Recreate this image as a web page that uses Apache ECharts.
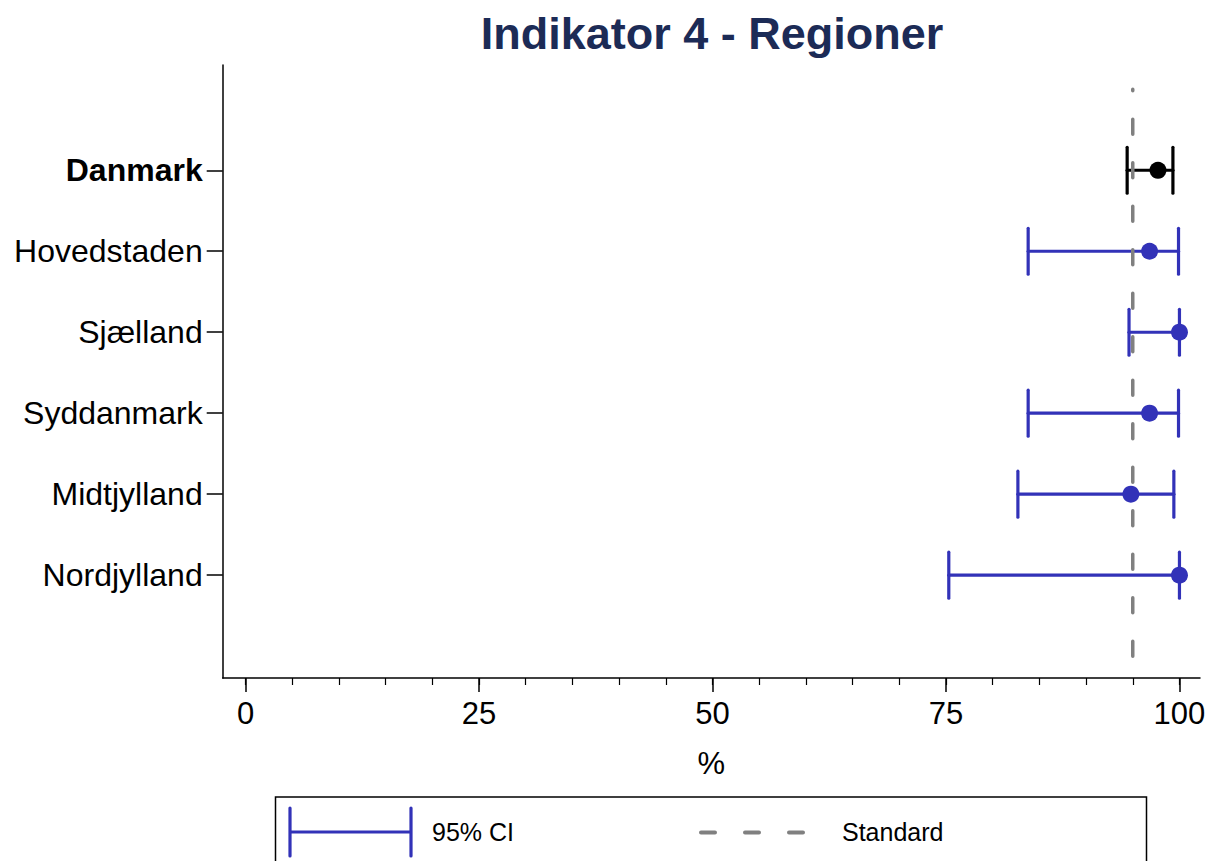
<!DOCTYPE html>
<html>
<head>
<meta charset="utf-8">
<title>Indikator 4 - Regioner</title>
<script src="https://cdn.jsdelivr.net/npm/echarts@6.0.0/dist/echarts.min.js"></script>
<style>
  html, body { margin: 0; padding: 0; background: #fff; }
  #main { width: 1210px; height: 861px; }
</style>
</head>
<body>
<div id="main"></div>
<script>
// data
const regions = ["Danmark", "Hovedstaden", "Sjælland", "Syddanmark", "Midtjylland", "Nordjylland"];
const means = [97.7, 96.8, 100, 96.8, 94.8, 100];
const ciLow = [94.4, 83.8, 94.6, 83.8, 82.7, 75.3];
const ciHigh = [99.3, 99.9, 100, 99.9, 99.4, 100];
const standard = 95;
const xLabels = [0, 25, 50, 75, 100];
const xMinor = [0, 5, 10, 15, 20, 25, 30, 35, 40, 45, 50, 55, 60, 65, 70, 75, 80, 85, 90, 95, 100];
const rowPos = [1, 2, 3, 4, 5, 6];

const BLUE = "#3232b8";
const GREY = "#808080";
const FONT = "'Liberation Sans', Arial, Helvetica, sans-serif";

const myChart = echarts.init(document.getElementById("main"), null, { renderer: "svg" });

const ciData = regions.map((r, i) => [rowPos[i], ciLow[i], ciHigh[i]]);
const pointData = regions.map((r, i) => ({
  value: [means[i], rowPos[i]],
  itemStyle: { color: i === 0 ? "#000" : BLUE, opacity: 1 },
}));

myChart.setOption({
  animation: false,
  backgroundColor: "#fff",
  title: {
    text: "Indikator 4 - Regioner",
    left: 707,
    top: 6,
    textAlign: "center",
    textStyle: { fontFamily: FONT, fontSize: 45, fontWeight: "bold", color: "#1c2b56" },
  },
  grid: { left: 222.7, right: 10, top: 65, bottom: 183 },
  xAxis: [
    {
      type: "value",
      min: -2.45,
      max: 102.2,
      name: "%",
      nameLocation: "middle",
      nameGap: 70,
      nameTextStyle: { fontFamily: FONT, fontSize: 31, color: "#000" },
      axisLine: { show: true, onZero: false, lineStyle: { color: "#000", width: 1.5 } },
      axisTick: { show: true, customValues: xLabels, length: 14, lineStyle: { color: "#000", width: 1.5 } },
      axisLabel: { customValues: xLabels, margin: 20, fontFamily: FONT, fontSize: 31, color: "#000" },
      splitLine: { show: false },
    },
    {
      type: "value",
      min: -2.45,
      max: 102.2,
      position: "bottom",
      axisLine: { show: false, onZero: false },
      axisTick: { show: true, customValues: xMinor, length: 7, lineStyle: { color: "#000", width: 1.2 } },
      axisLabel: { show: false },
      splitLine: { show: false },
    },
  ],
  yAxis: {
    type: "value",
    inverse: true,
    min: -0.3,
    max: 7.27,
    axisLine: { show: true, onZero: false, lineStyle: { color: "#000", width: 1.5 } },
    axisTick: { show: true, customValues: rowPos, length: 16, lineStyle: { color: "#000", width: 1.5 } },
    axisLabel: {
      customValues: rowPos,
      margin: 20,
      fontFamily: FONT,
      fontSize: 32,
      color: "#000",
      formatter: function (v) {
        const name = regions[Math.round(v) - 1];
        return Math.round(v) === 1 ? "{b|" + name + "}" : name;
      },
      rich: {
        b: { fontFamily: FONT, fontSize: 32, fontWeight: "bold", color: "#000" },
      },
    },
    splitLine: { show: false },
  },
  series: [
    {
      name: "95% CI",
      type: "custom",
      z: 2,
      encode: { x: [1, 2], y: 0 },
      data: ciData,
      renderItem: function (params, api) {
        const y = api.value(0);
        const p1 = api.coord([api.value(1), y]);
        const p2 = api.coord([api.value(2), y]);
        const h = 23;
        const col = params.dataIndex === 0 ? "#000" : BLUE;
        const st = { stroke: col, lineWidth: 3.2, lineCap: "round" };
        return {
          type: "group",
          children: [
            { type: "line", shape: { x1: p1[0], y1: p1[1], x2: p2[0], y2: p2[1] }, style: st },
            { type: "line", shape: { x1: p1[0], y1: p1[1] - h, x2: p1[0], y2: p1[1] + h }, style: st },
            { type: "line", shape: { x1: p2[0], y1: p2[1] - h, x2: p2[0], y2: p2[1] + h }, style: st },
          ],
        };
      },
    },
    {
      name: "Standard",
      type: "line",
      z: 3,
      symbol: "none",
      data: [[standard, 7], [standard, 0]],
      lineStyle: { color: GREY, width: 3.5, type: [15, 28.5], cap: "round" },
    },
    {
      name: "Andel",
      type: "scatter",
      z: 4,
      symbolSize: 17,
      data: pointData,
    },
  ],
  graphic: [
    {
      type: "rect",
      shape: { x: 275.5, y: 797, width: 871, height: 100 },
      style: { fill: "none", stroke: "#000", lineWidth: 1.5 },
    },
    { type: "line", shape: { x1: 290, y1: 832, x2: 411, y2: 832 }, style: { stroke: BLUE, lineWidth: 3.2 } },
    { type: "line", shape: { x1: 290, y1: 808, x2: 290, y2: 856 }, style: { stroke: BLUE, lineWidth: 3.2, lineCap: "round" } },
    { type: "line", shape: { x1: 411, y1: 808, x2: 411, y2: 856 }, style: { stroke: BLUE, lineWidth: 3.2, lineCap: "round" } },
    {
      type: "text",
      x: 432,
      y: 832,
      style: { text: "95% CI", font: "25px " + FONT, fill: "#000", verticalAlign: "middle", align: "left" },
    },
    {
      type: "line",
      shape: { x1: 701, y1: 832.5, x2: 803, y2: 832.5 },
      style: { stroke: GREY, lineWidth: 4, lineDash: [14, 30], lineCap: "round" },
    },
    {
      type: "text",
      x: 842,
      y: 832,
      style: { text: "Standard", font: "25px " + FONT, fill: "#000", verticalAlign: "middle", align: "left" },
    },
  ],
});
</script>
</body>
</html>
